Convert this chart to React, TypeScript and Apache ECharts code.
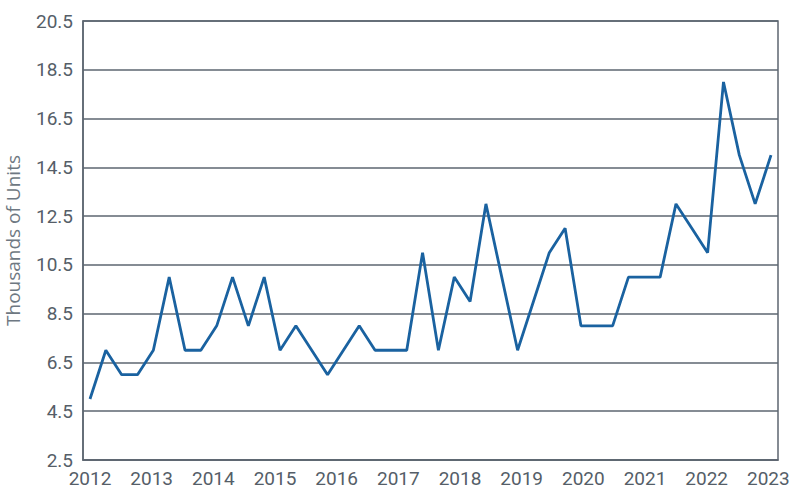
import React, { useEffect, useRef } from "react";
import * as echarts from "echarts";

// Quarterly values, 2012 Q1 .. 2022 Q4 (thousands of units)
const values: number[] = [
  5, 7, 6, 6,
  7, 10, 7, 7,
  8, 10, 8, 10,
  7, 8, 7, 6,
  7, 8, 7, 7,
  7, 11, 7, 10,
  9, 13, 10, 7,
  9, 11, 12, 8,
  8, 8, 10, 10,
  10, 13, 12, 11,
  18, 15, 13, 15,
];
const yearLabels: number[] = [2012, 2013, 2014, 2015, 2016, 2017, 2018, 2019, 2020, 2021, 2022, 2023];
const yMin = 2.5;
const yMax = 20.5;
const yStep = 2;

const gridColor = "#5d6670";
const labelColor = "#555e68";
const lineColor = "#1a62a0";

export default function App() {
  const ref = useRef<HTMLDivElement>(null);
  useEffect(() => {
    if (!ref.current) return;
    const chart = echarts.init(ref.current, null, { renderer: "svg" });
    const n = values.length;
    chart.setOption({
      animation: false,
      backgroundColor: "#ffffff",
      grid: {
        left: 83,
        right: 22,
        top: 21,
        bottom: 34,
        containLabel: false,
        outerBoundsMode: "none",
        show: true,
        borderColor: gridColor,
        borderWidth: 1.5,
      },
      xAxis: [
        {
          type: "value",
          min: -0.442,
          max: n - 1 + 0.442,
          show: false,
        },
        {
          type: "value",
          min: 2011.8865,
          max: 2023.157,
          position: "bottom",
          axisLine: { show: true, onZero: false, lineStyle: { color: gridColor, width: 1.5 } },
          axisTick: { show: false },
          splitLine: { show: false },
          axisLabel: {
            customValues: yearLabels,
            formatter: (v: number) => String(Math.round(v)),
            color: labelColor,
            fontFamily: "Roboto",
            fontSize: 19,
            margin: 9,
          },
        },
      ],
      yAxis: {
        type: "value",
        min: yMin,
        max: yMax,
        interval: yStep,
        name: "Thousands of Units",
        nameLocation: "middle",
        nameGap: 59,
        nameTextStyle: {
          color: "#6e7882",
          fontFamily: "Open Sans",
          fontSize: 19,
          lineHeight: 22,
        },
        axisLine: { show: true, onZero: false, lineStyle: { color: gridColor, width: 1.5 } },
        axisTick: { show: false },
        splitLine: { show: true, lineStyle: { color: gridColor, width: 1.5 } },
        axisLabel: {
          formatter: (v: number) => v.toFixed(1),
          color: labelColor,
          fontFamily: "Roboto",
          fontSize: 19,
          margin: 10,
        },
      },
      series: [
        {
          type: "line",
          xAxisIndex: 0,
          data: values.map((v, i) => [i, v]),
          symbol: "none",
          lineStyle: { color: lineColor, width: 2.8 },
        },
      ],
    });
    return () => chart.dispose();
  }, []);
  return <div ref={ref} style={{ width: 800, height: 494, position: "absolute", left: 0, top: 0 }} />;
}
